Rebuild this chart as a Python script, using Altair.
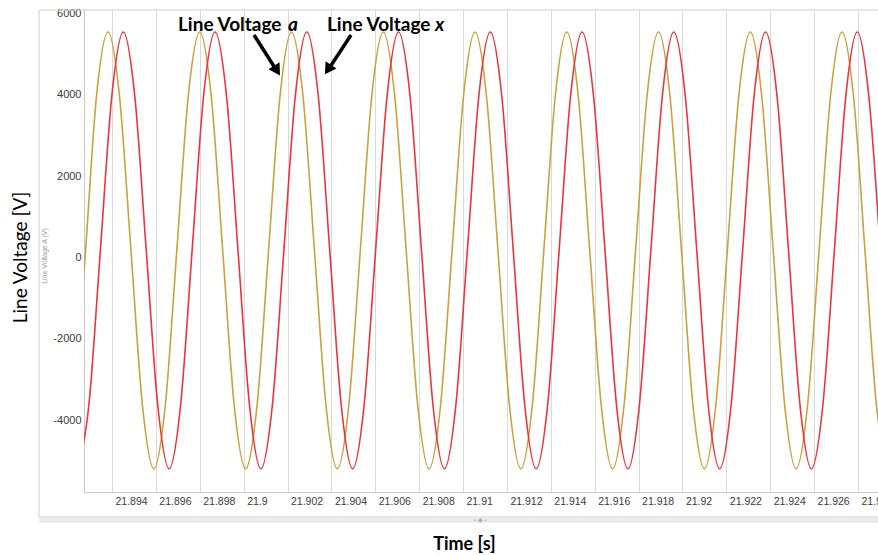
import altair as alt
import pandas as pd

# ---------------- data ----------------
time_ticks = [21.894, 21.896, 21.898, 21.900, 21.902, 21.904, 21.906, 21.908,
              21.910, 21.912, 21.914, 21.916, 21.918, 21.920, 21.922, 21.924,
              21.926, 21.928]
volt_ticks = [-4000, -2000, 0, 2000, 4000, 6000]

# Line Voltage a (gold)
gold_t = [21.892250, 21.892773, 21.893295,
          21.893818, 21.894341, 21.894864, 21.895386, 21.895909, 21.896432, 21.896955, 21.897477,
          21.898000, 21.898523, 21.899046, 21.899568, 21.900091, 21.900614, 21.901137, 21.901659,
          21.902182, 21.902705, 21.903228, 21.903750, 21.904273, 21.904796, 21.905319, 21.905841,
          21.906364, 21.906887, 21.907410, 21.907932, 21.908455, 21.908978, 21.909501, 21.910023,
          21.910546, 21.911069, 21.911592, 21.912114, 21.912637, 21.913160, 21.913683, 21.914205,
          21.914728, 21.915251, 21.915774, 21.916296, 21.916819, 21.917342, 21.917865, 21.918387,
          21.918910, 21.919433, 21.919956, 21.920478, 21.921001, 21.921524, 21.922047, 21.922569,
          21.923092, 21.923615, 21.924138, 21.924660, 21.925183, 21.925706, 21.926229, 21.926751,
          21.927274, 21.927797, 21.928320, 21.928842, 21.929365]
gold_v = [-3700, 0, 3975,
          5550, 3975, 175, -3625, -5200, -3625, 175, 3975,
          5550, 3975, 175, -3625, -5200, -3625, 175, 3975,
          5550, 3975, 175, -3625, -5200, -3625, 175, 3975,
          5550, 3975, 175, -3625, -5200, -3625, 175, 3975,
          5550, 3975, 175, -3625, -5200, -3625, 175, 3975,
          5550, 3975, 175, -3625, -5200, -3625, 175, 3975,
          5550, 3975, 175, -3625, -5200, -3625, 175, 3975,
          5550, 3975, 175, -3625, -5200, -3625, 175, 3975,
          5550, 3975, 175, -3625, -5200]

# Line Voltage x (red)
red_t = [21.892424, 21.892947, 21.893470, 21.893992,
         21.894515, 21.895038, 21.895561, 21.896083, 21.896606, 21.897129, 21.897652, 21.898174,
         21.898697, 21.899220, 21.899743, 21.900265, 21.900788, 21.901311, 21.901834, 21.902356,
         21.902879, 21.903402, 21.903925, 21.904447, 21.904970, 21.905493, 21.906016, 21.906538,
         21.907061, 21.907584, 21.908107, 21.908629, 21.909152, 21.909675, 21.910198, 21.910720,
         21.911243, 21.911766, 21.912289, 21.912811, 21.913334, 21.913857, 21.914380, 21.914902,
         21.915425, 21.915948, 21.916471, 21.916993, 21.917516, 21.918039, 21.918562, 21.919084,
         21.919607, 21.920130, 21.920653, 21.921175, 21.921698, 21.922221, 21.922744, 21.923266,
         21.923789, 21.924312, 21.924835, 21.925357, 21.925880, 21.926403, 21.926926, 21.927448,
         21.927971, 21.928494, 21.929017]
red_v = [-5200, -3625, 175, 3975,
         5550, 3975, 175, -3625, -5200, -3625, 175, 3975,
         5550, 3975, 175, -3625, -5200, -3625, 175, 3975,
         5550, 3975, 175, -3625, -5200, -3625, 175, 3975,
         5550, 3975, 175, -3625, -5200, -3625, 175, 3975,
         5550, 3975, 175, -3625, -5200, -3625, 175, 3975,
         5550, 3975, 175, -3625, -5200, -3625, 175, 3975,
         5550, 3975, 175, -3625, -5200, -3625, 175, 3975,
         5550, 3975, 175, -3625, -5200, -3625, 175, 3975,
         5550, 3975, 175]

# ---------------- styling ----------------
FONT = "Liberation Sans"
TFONT = "Lato"
GOLD = "#c8a23c"
RED = "#e8353e"

xscale = alt.Scale(domain=[21.892724, 21.928914], nice=False, zero=False)
yscale = alt.Scale(domain=[-5772, 6092], nice=False, zero=False)

xaxis = alt.Axis(values=time_ticks, format=".3~f", labelAlign="left", labelOffset=3,
                 ticks=False, grid=True, gridColor="#d9d9d9", gridWidth=1,
                 domainColor="#c8c8c8", labelColor="#3a3a3a", labelFontSize=10.5,
                 labelFont=FONT, labelPadding=4, labelOverlap=False, labelFlush=False,
                 title="Time [s]", titleFont=TFONT, titleFontSize=18, titleFontWeight="bold",
                 titleColor="#000000", titleX=380, titleY=52, titleAlign="center",
                 titleBaseline="middle")
yaxis = alt.Axis(values=volt_ticks, labelExpr="'' + datum.value", ticks=False, grid=False,
                 domainColor="#c8c8c8", labelColor="#3a3a3a", labelFontSize=11,
                 labelFont=FONT, labelPadding=3,
                 title="Line Voltage [V]", titleFont=TFONT, titleFontSize=19,
                 titleFontWeight="normal", titleColor="#000000", titleX=-64, titleY=247,
                 titleAlign="center", titleBaseline="middle", titleAngle=270)

gold = alt.Chart(pd.DataFrame({"t": gold_t, "v": gold_v})).mark_line(
    color=GOLD, strokeWidth=1.6, interpolate="monotone", clip=True
).encode(x=alt.X("t:Q", scale=xscale, axis=xaxis), y=alt.Y("v:Q", scale=yscale, axis=yaxis))

red = alt.Chart(pd.DataFrame({"t": red_t, "v": red_v})).mark_line(
    color=RED, strokeWidth=1.6, interpolate="monotone", clip=True
).encode(x=alt.X("t:Q", scale=xscale, axis=xaxis), y=alt.Y("v:Q", scale=yscale, axis=yaxis))

one = pd.DataFrame({"o": [0]})
base = alt.Chart(one)

panel = base.mark_rect(fillOpacity=0, stroke="#cfcfcf", strokeWidth=1).encode(
    x=alt.value(-45), x2=alt.value(830), y=alt.value(0), y2=alt.value(507))
shadow = base.mark_rect(fill="#ececec").encode(
    x=alt.value(-45), x2=alt.value(830), y=alt.value(508), y2=alt.value(513))
handle = base.mark_text(text="• ◆ •", fontSize=6, color="#a8a8a8", font=FONT).encode(
    x=alt.value(396), y=alt.value(510))
ghost = base.mark_text(text="Line Voltage A (V)", angle=270, fontSize=7, color="#9a9a9a",
                       font=FONT).encode(x=alt.value(-39), y=alt.value(246))

lab_style = dict(font=TFONT, fontWeight="bold", fontSize=19, color="#000000",
                 align="left", baseline="middle")
t1 = base.mark_text(text="Line Voltage", **lab_style).encode(x=alt.value(94), y=alt.value(15))
t1a = base.mark_text(text="a", fontStyle="italic", **lab_style).encode(x=alt.value(204), y=alt.value(15))
t2 = base.mark_text(text="Line Voltage", **lab_style).encode(x=alt.value(243), y=alt.value(15))
t2x = base.mark_text(text="x", fontStyle="italic", **lab_style).encode(x=alt.value(351), y=alt.value(15))

arrow1 = base.mark_rule(color="black", strokeWidth=3.5).encode(
    x=alt.value(170), y=alt.value(25), x2=alt.value(191), y2=alt.value(58))
head1 = base.mark_point(shape="triangle", filled=True, color="black", size=170, angle=148,
                        opacity=1).encode(x=alt.value(192), y=alt.value(59))
arrow2 = base.mark_rule(color="black", strokeWidth=3.5).encode(
    x=alt.value(267), y=alt.value(25), x2=alt.value(246), y2=alt.value(57))
head2 = base.mark_point(shape="triangle", filled=True, color="black", size=170, angle=213,
                        opacity=1).encode(x=alt.value(245), y=alt.value(58))

chart = alt.layer(
    panel, shadow, handle, ghost, gold, red, t1, t1a, t2, t2x, arrow1, head1, arrow2, head2
).properties(
    width=794, height=482,
    autosize=alt.AutoSizeParams(type="none"),
    padding={"left": 84, "top": 10, "right": 0, "bottom": 63},
    background="white",
).configure_view(stroke=None)

chart.save("out.html", embed_options={"renderer": "svg", "actions": False})
